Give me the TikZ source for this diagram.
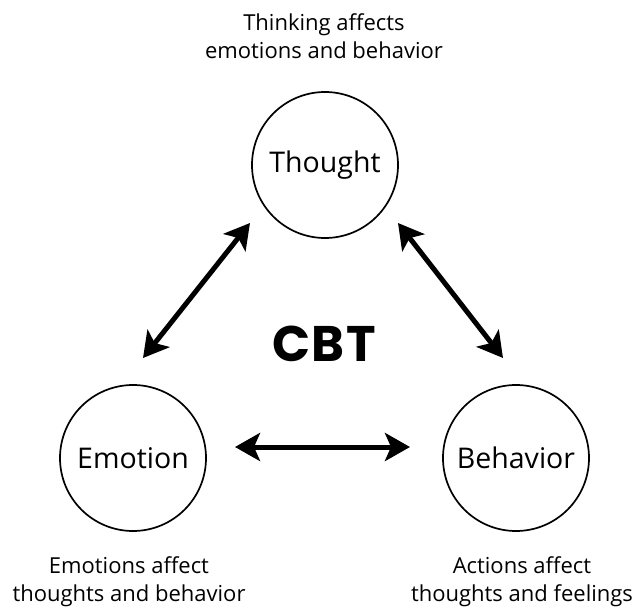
\documentclass[tikz,border=0pt]{standalone}
\usepackage{fontspec}
\setmainfont{Open Sans}
\newfontfamily\cbtfont[LetterSpace=3]{Poppins Bold}
\usetikzlibrary{arrows.meta,calc}
\begin{document}
\begin{tikzpicture}[x=1pt,y=-1pt,
  stage/.style={circle,draw,line width=1.7pt,minimum size=146pt,inner sep=0pt,font=\fontsize{28.5}{34}\selectfont},
  note/.style={align=center,font=\fontsize{22}{28}\selectfont},
  arr/.style={line width=5pt,{Stealth[length=25pt,width=28pt,inset=6pt]}-{Stealth[length=25pt,width=28pt,inset=6pt]}}]
\useasboundingbox (0,0) rectangle (633,608);
\node[stage] (thought) at (325,165) {Thought};
\node[stage] (emotion) at (133,458) {Emotion};
\node[stage] (behavior) at (516,458) {Behavior};
\node[font=\cbtfont\fontsize{50}{60}\selectfont] (cbt) at (324,344) {CBT};
\node[note] (tn) at (324,36) {Thinking affects\\emotions and behavior};
\node[note] (en) at (129,582) {Emotions affect\\thoughts and behavior};
\node[note] (bn) at (522,582) {Actions affect\\thoughts and feelings};
\draw[arr] ($(thought)+(-75,58)$) -- ($(emotion)+(10,-100)$);
\draw[arr] ($(thought)+(73,58)$) -- ($(behavior)+(-13,-100)$);
\draw[arr] ($(emotion)+(102,-11)$) -- ($(behavior)+(-106,-11)$);
\end{tikzpicture}
\end{document}
